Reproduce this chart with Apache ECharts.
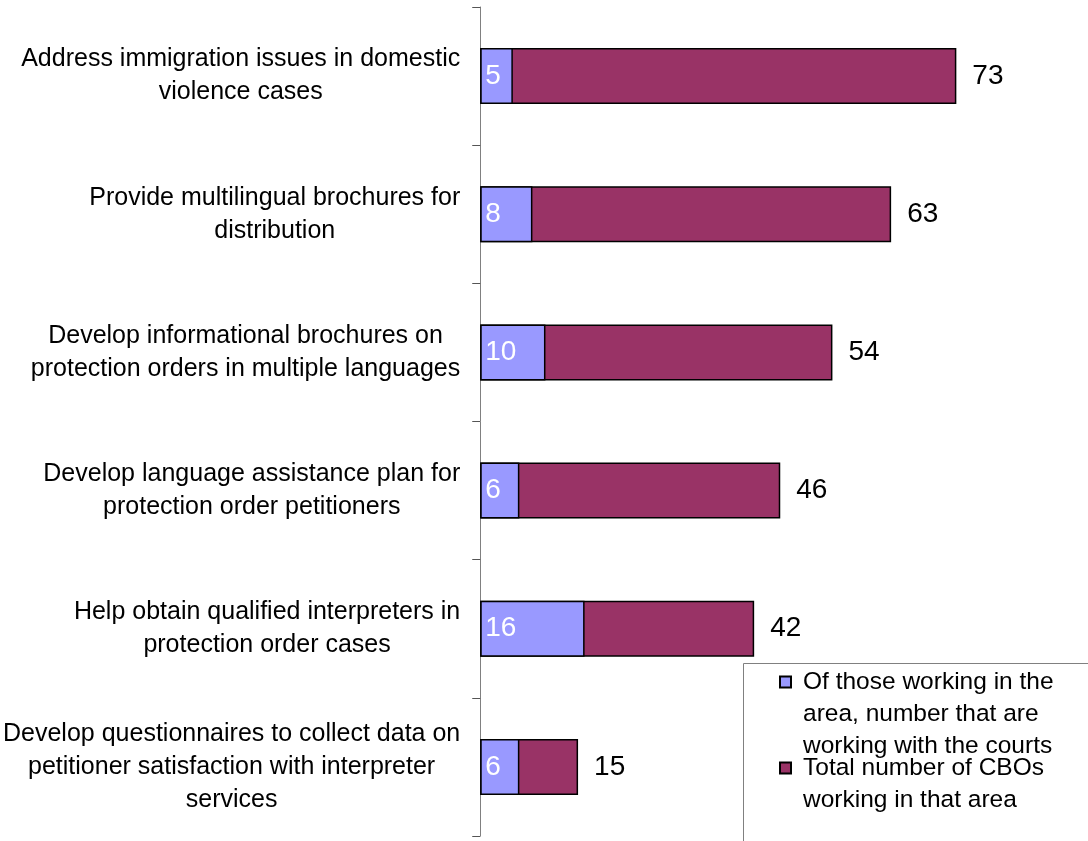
<!DOCTYPE html>
<html>
<head>
<meta charset="utf-8">
<style>
  html, body { margin: 0; padding: 0; background: #ffffff; }
  #chart { width: 1088px; height: 841px; }
</style>
<script src="https://cdn.jsdelivr.net/npm/echarts@6/dist/echarts.min.js"></script>
</head>
<body>
<div id="chart"></div>
<script>
// Activity areas (line breaks are where each label wraps)
const categories = [
  'Address immigration issues in domestic\nviolence cases',
  'Provide multilingual brochures for\ndistribution',
  'Develop informational brochures on\nprotection orders in multiple languages',
  'Develop language assistance plan for\nprotection order petitioners',
  'Help obtain qualified interpreters in\nprotection order cases',
  'Develop questionnaires to collect data on\npetitioner satisfaction with interpreter\nservices'
];

// Total number of CBOs working in each area
const totalCBOs = [73, 63, 54, 46, 42, 15];

// Of those, the number working with the courts
const withCourts = [5, 8, 10, 6, 16, 6];

// Series names and how their legend text wraps
const nameWithCourts = 'Of those working in the area, number that are working with the courts';
const nameTotal = 'Total number of CBOs working in that area';
const legendLines = {};
legendLines[nameWithCourts] = ['Of those working in the', 'area, number that are', 'working with the courts'];
legendLines[nameTotal] = ['Total number of CBOs', 'working in that area'];

const FONT = '"Liberation Sans", Arial, Helvetica, sans-serif';
const LEGEND_LH = 32;

const chart = echarts.init(document.getElementById('chart'), null, { renderer: 'canvas' });

// Each legend entry is its own legend so its marker can sit level with
// the first text line: blank lines above the text keep the block centred
// on that first line.
function legendFor(name, markerCenterY) {
  const n = legendLines[name].length;
  const half = (2 * n - 1) * LEGEND_LH / 2;
  return {
    data: [name],
    orient: 'vertical',
    left: 779,
    top: markerCenterY - half,
    padding: 0,
    itemWidth: 11,
    itemHeight: 11,
    icon: 'rect',
    selectedMode: false,
    formatter: function (nm) {
      const lines = legendLines[nm];
      const blanks = new Array(lines.length - 1).fill(' ');
      return blanks.concat(lines).join('\n');
    },
    textStyle: {
      fontFamily: FONT,
      fontSize: 24.5,
      lineHeight: LEGEND_LH,
      color: '#000000',
      padding: [0, 0, 0, 7]
    }
  };
}

const option = {
  backgroundColor: '#ffffff',
  animation: false,
  textStyle: { fontFamily: FONT },
  grid: {
    left: 480,
    top: 7,
    width: 522,
    height: 829,
    containLabel: false
  },
  xAxis: {
    type: 'value',
    min: 0,
    max: 80,
    show: false
  },
  yAxis: {
    type: 'category',
    data: categories,
    inverse: true,
    axisLine: { show: true, lineStyle: { color: '#808080', width: 1 } },
    axisTick: { show: true, length: 8, lineStyle: { color: '#555555', width: 1 } },
    splitLine: { show: false },
    axisLabel: {
      margin: 20,
      align: 'right',
      formatter: function (v) {
        return v.split('\n').map(function (l) { return '{c|' + l + '}'; }).join('\n');
      },
      rich: {
        c: {
          align: 'center',
          fontFamily: FONT,
          fontSize: 25,
          lineHeight: 33,
          color: '#000000'
        }
      }
    }
  },
  legend: [
    legendFor(nameWithCourts, 682),
    legendFor(nameTotal, 768)
  ],
  graphic: [{
    type: 'rect',
    z: 0,
    shape: { x: 743.5, y: 663.5, width: 400, height: 300 },
    style: { fill: 'none', stroke: '#808080', lineWidth: 1 },
    silent: true
  }],
  series: [
    {
      name: nameTotal,
      type: 'bar',
      data: totalCBOs,
      barCategoryGap: '59.5%',
      barGap: '-100%',
      z: 2,
      itemStyle: { color: '#993366', borderColor: '#000000', borderWidth: 1.5 },
      label: {
        show: true,
        position: 'right',
        distance: 16,
        formatter: '{c}',
        fontFamily: FONT,
        fontSize: 28,
        color: '#000000'
      }
    },
    {
      name: nameWithCourts,
      type: 'bar',
      data: withCourts,
      barCategoryGap: '59.5%',
      barGap: '-100%',
      z: 3,
      itemStyle: { color: '#9999FF', borderColor: '#000000', borderWidth: 1.5 },
      label: {
        show: true,
        position: 'insideLeft',
        distance: 5,
        formatter: '{c}',
        fontFamily: FONT,
        fontSize: 28,
        color: '#ffffff'
      }
    }
  ]
};

chart.setOption(option);
</script>
</body>
</html>
